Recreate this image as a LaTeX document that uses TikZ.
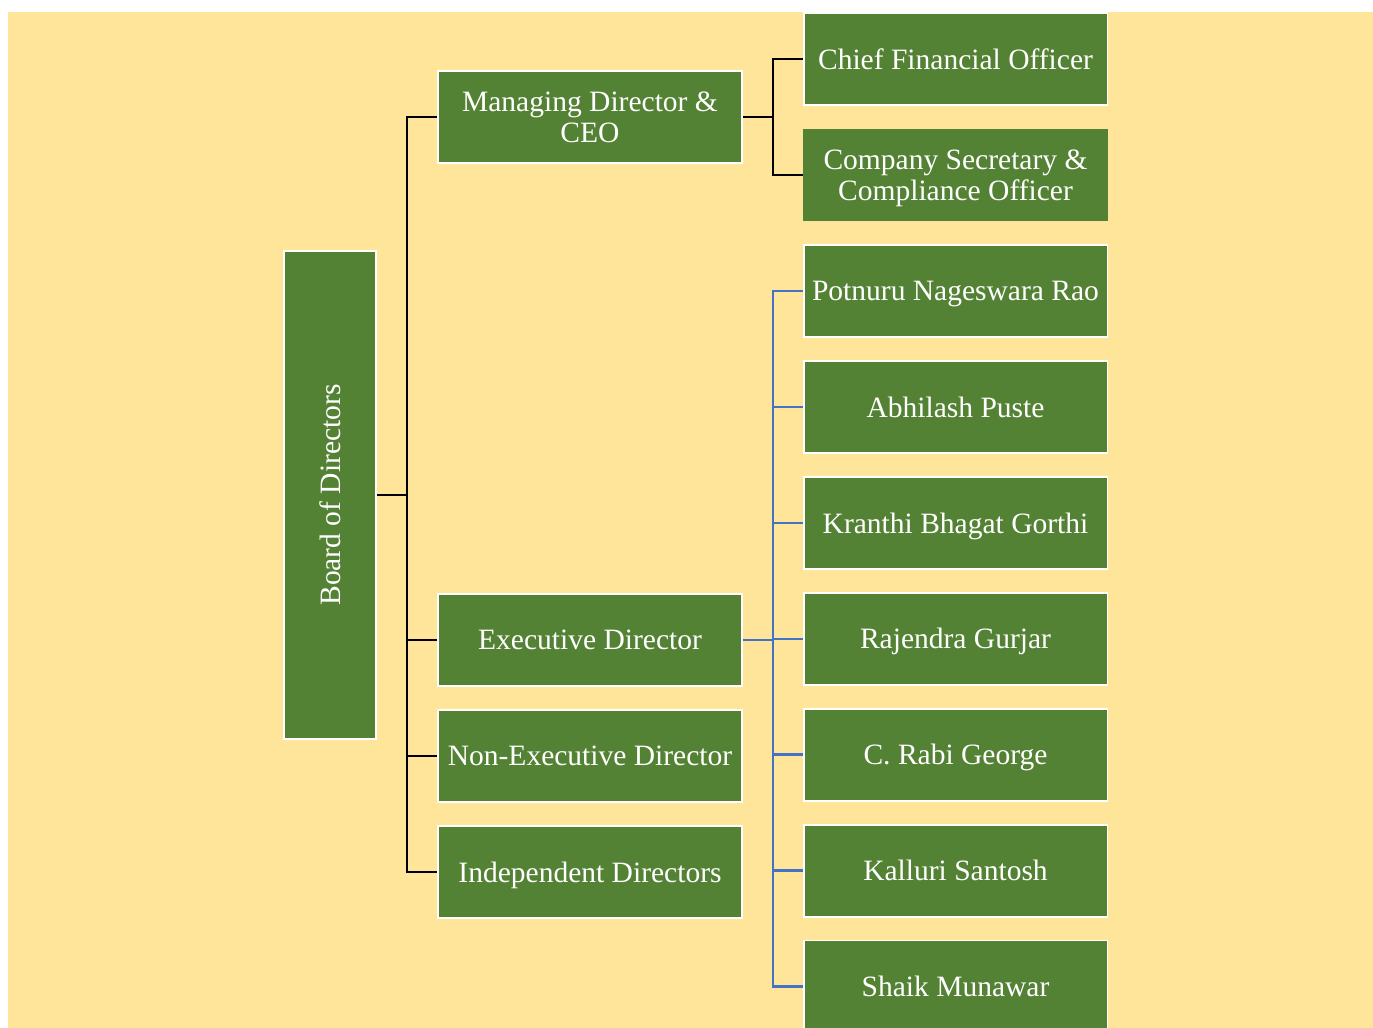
\documentclass[tikz,border=0pt]{standalone}
\usepackage{fontspec}
\setmainfont{Liberation Serif}
\usetikzlibrary{arrows,positioning}
\definecolor{orgyellow}{HTML}{FFE599}
\definecolor{orggreen}{HTML}{548235}
\definecolor{orgblue}{HTML}{4472C4}
\tikzset{
	orgnode/.style = {align=center, inner sep=0pt, text centered, text=white,
		font=\fontsize{16.8}{17.6}\selectfont, text depth=0pt, fill=orggreen},
	org_b/.style = {orgnode, draw=white, line width=1.1pt,
		minimum width=6.08cm, minimum height=1.84cm},% case verte, bord blanc
	org_p/.style = {orgnode, draw=none,
		minimum width=6.1cm, minimum height=1.86cm},% case verte, sans bord
	org_v/.style = {org_b, rotate=90, minimum width=9.76cm,
		minimum height=1.84cm},% case verticale
	lien_n/.style = {draw=black, line width=1.4pt},% trait noir
	lien_b/.style = {draw=orgblue, line width=1.4pt}% trait bleu
}

\begin{document}
\begin{tikzpicture}[x=0.02cm,y=-0.02cm]
\useasboundingbox (0,0) rectangle (1373,1028);
\fill[white] (0,0) rectangle (1373,1028);
\fill[orgyellow] (8,12) rectangle (1373,1028);

\node [org_v] (bod) at (330,495) {Board of Directors};

\node [org_b] (md) at (590,117) {Managing Director \&\\CEO};
\node [org_b] (ed) at (590,640) {Executive Director};
\node [org_b, below=0.44cm of ed] (ned) {Non-Executive Director};
\node [org_b, below=0.44cm of ned] (ind) {Independent Directors};

\node [org_b] (cfo) at (955.5,59) {Chief Financial Officer};
\node [org_p] (cs) at (955.5,175) {Company Secretary \&\\Compliance Officer};
\node [org_b] (pnr) at (955.5,291) {Potnuru Nageswara Rao};
\node [org_b, below=0.44cm of pnr] (ap) {Abhilash Puste};
\node [org_b, below=0.44cm of ap] (kbg) {Kranthi Bhagat Gorthi};
\node [org_b, below=0.44cm of kbg] (rg) {Rajendra Gurjar};
\node [org_b, below=0.44cm of rg] (crg) {C. Rabi George};
\node [org_b, below=0.44cm of crg] (ks) {Kalluri Santosh};
\node [org_b, below=0.44cm of ks] (sm) {Shaik Munawar};

\coordinate (j1) at (407,495);
\coordinate (j2) at (773,117);
\coordinate (j3) at (773,640);

% conseil -> directeurs
\draw [lien_n] (bod.south) -- (j1);
\draw [lien_n] (md.west) -| (j1) |- (ind.west);
\draw [lien_n] (ed.west) -- (ed.west -| j1);
\draw [lien_n] (ned.west) -- (ned.west -| j1);

% MD -> officiers
\draw [lien_n] (md.east) -- (j2);
\draw [lien_n] (cfo.west) -| (j2) |- (cs.west);

% directeur executif -> membres
\draw [lien_b] (ed.east) -- (j3);
\draw [lien_b] (pnr.west) -| (j3) |- (sm.west);
\draw [lien_b] (ap.west) -- (ap.west -| j3);
\draw [lien_b] (kbg.west) -- (kbg.west -| j3);
\draw [lien_b] (rg.west) -- (rg.west -| j3);
\draw [lien_b] (crg.west) -- (crg.west -| j3);
\draw [lien_b] (ks.west) -- (ks.west -| j3);
\end{tikzpicture}
\end{document}
